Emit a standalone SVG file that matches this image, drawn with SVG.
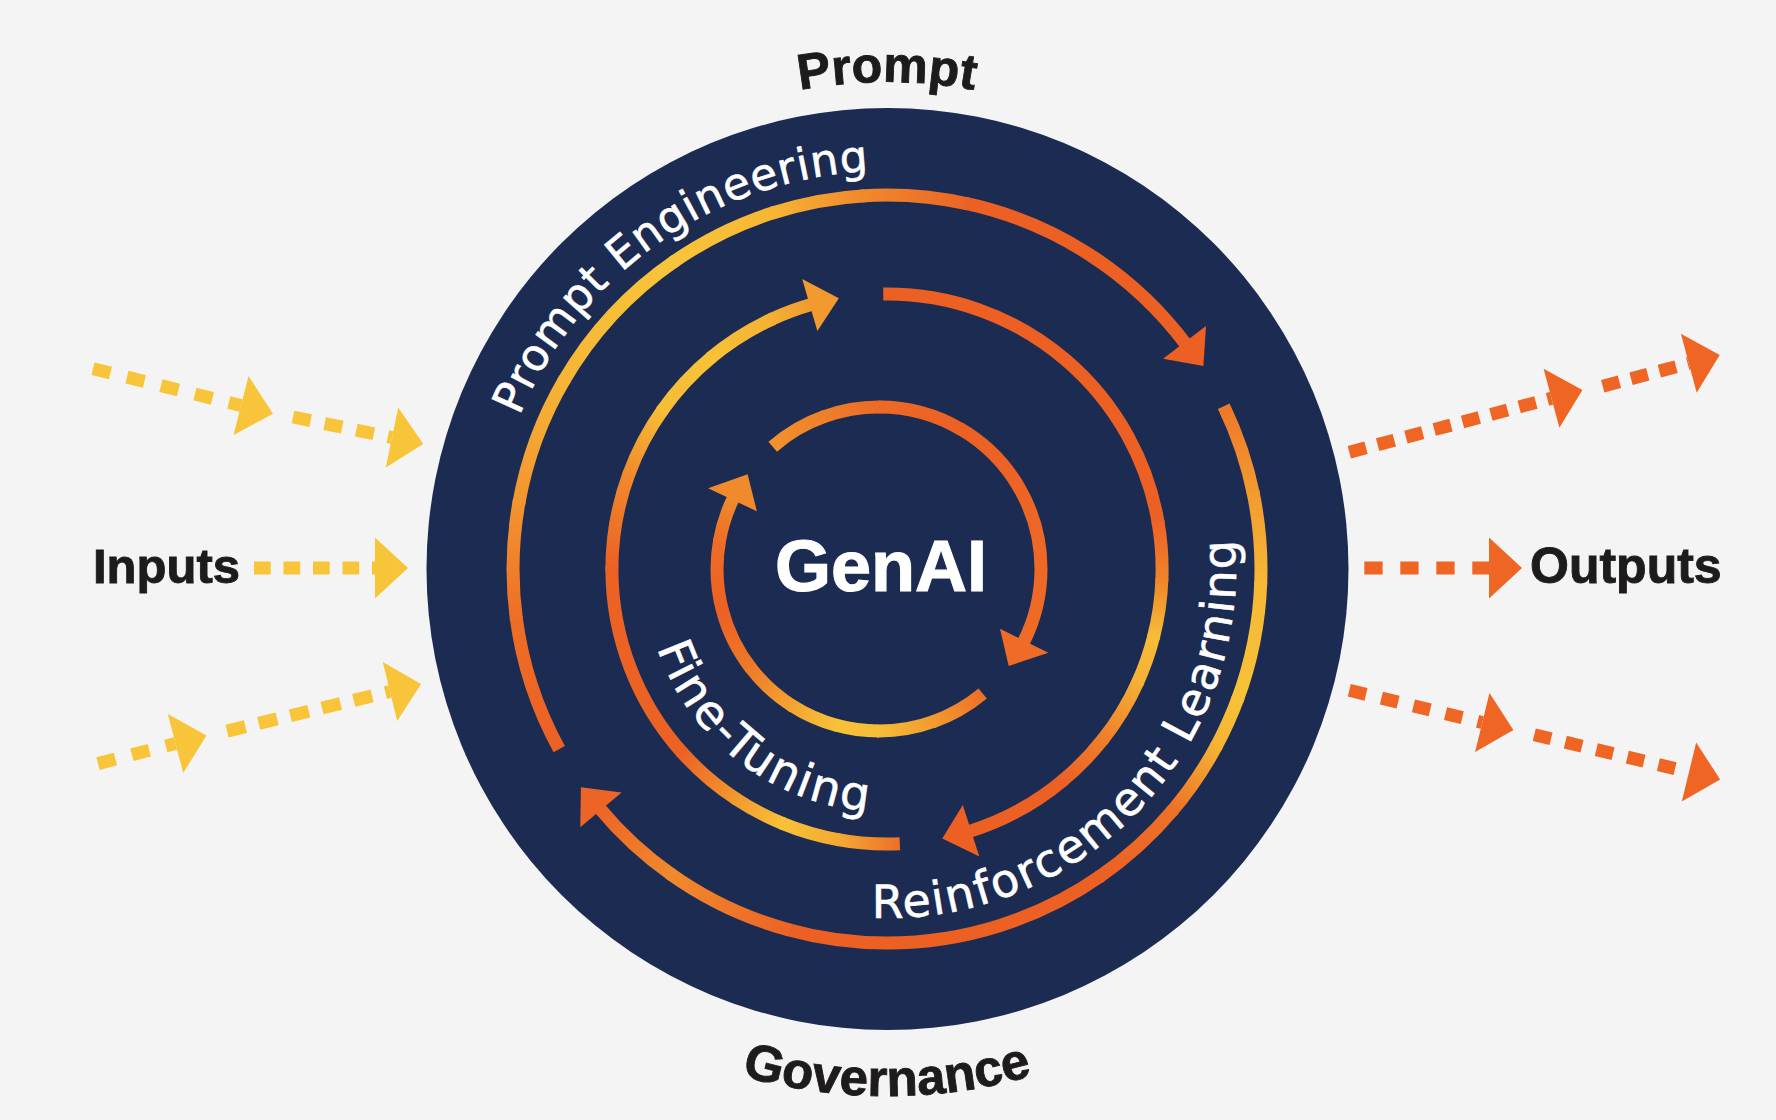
<svg xmlns="http://www.w3.org/2000/svg" width="1776" height="1120" viewBox="0 0 1776 1120">
<style>
.ring{fill:none;stroke-width:13}
.lbl{font-family:"Liberation Sans",Arial,sans-serif;font-weight:bold;fill:#1E1B1C;stroke:#1E1B1C;stroke-width:0.9}
.arct{font-family:"DejaVu Sans","Open Sans",sans-serif;fill:#FFFFFF;stroke:#FFFFFF;stroke-width:0.6}
.dy{fill:none;stroke:#F8C53A;stroke-width:13}
.do{fill:none;stroke:#EF6524;stroke-width:13}
.hy{fill:#F8C53A}
.ho{fill:#EF6524}
</style>
<defs>
<path id="rO" d="M887,195 A374,374 0 1,1 887,943 A374,374 0 1,1 887,195" pathLength="360"/>
<path id="rM" d="M887,294 A275,275 0 1,1 887,844 A275,275 0 1,1 887,294" pathLength="360"/>
<path id="rI" d="M879,407 A162,162 0 1,1 879,731 A162,162 0 1,1 879,407" pathLength="360"/>
<path id="tpPE" d="M519.6,416.0 A398,398 0 0,1 1023.1,195.0"/>
<path id="tpRL" d="M871.8,917.7 A349,349 0 0,0 1111.3,301.7"/>
<path id="tpFT" d="M657.2,648.1 A243,243 0 0,0 1008.5,779.4"/>
<path id="tpP" d="M574,196 A487,487 0 0,1 1200,196"/>
<path id="tpG" d="M455.3,871.3 A527,527 0 0,0 1318.7,871.3"/>
<linearGradient id="o1a" gradientUnits="userSpaceOnUse" x1="559.9" y1="750.3" x2="516.6" y2="621.1"><stop offset="0" stop-color="#EC6024"/><stop offset="1" stop-color="#EE6D26"/></linearGradient>
<linearGradient id="o1b" gradientUnits="userSpaceOnUse" x1="516.6" y1="621.1" x2="518.7" y2="504.1"><stop offset="0" stop-color="#EE6D26"/><stop offset="1" stop-color="#F29430"/></linearGradient>
<linearGradient id="o1c" gradientUnits="userSpaceOnUse" x1="518.7" y1="504.1" x2="563.1" y2="382"><stop offset="0" stop-color="#F29430"/><stop offset="1" stop-color="#F6B535"/></linearGradient>
<linearGradient id="o1d" gradientUnits="userSpaceOnUse" x1="563.1" y1="382" x2="672.5" y2="262.6"><stop offset="0" stop-color="#F6B535"/><stop offset="1" stop-color="#F8C53A"/></linearGradient>
<linearGradient id="o1e" gradientUnits="userSpaceOnUse" x1="672.5" y1="262.6" x2="771.4" y2="213.3"><stop offset="0" stop-color="#F8C53A"/><stop offset="1" stop-color="#F6B634"/></linearGradient>
<linearGradient id="o1f" gradientUnits="userSpaceOnUse" x1="771.4" y1="213.3" x2="860.9" y2="195.9"><stop offset="0" stop-color="#F6B634"/><stop offset="1" stop-color="#F08A2C"/></linearGradient>
<linearGradient id="o1g" gradientUnits="userSpaceOnUse" x1="860.9" y1="195.9" x2="964.8" y2="203.2"><stop offset="0" stop-color="#F08A2C"/><stop offset="1" stop-color="#EC6525"/></linearGradient>
<linearGradient id="o2a" gradientUnits="userSpaceOnUse" x1="1223.2" y1="405" x2="1252.8" y2="491.2"><stop offset="0" stop-color="#EF7628"/><stop offset="1" stop-color="#F29A2F"/></linearGradient>
<linearGradient id="o2b" gradientUnits="userSpaceOnUse" x1="1252.8" y1="491.2" x2="1260.8" y2="582.1"><stop offset="0" stop-color="#F29A2F"/><stop offset="1" stop-color="#F6B836"/></linearGradient>
<linearGradient id="o2c" gradientUnits="userSpaceOnUse" x1="1260.8" y1="582.1" x2="1238.4" y2="696.9"><stop offset="0" stop-color="#F6B836"/><stop offset="1" stop-color="#F7C238"/></linearGradient>
<linearGradient id="o2d" gradientUnits="userSpaceOnUse" x1="1238.4" y1="696.9" x2="1217.2" y2="744.6"><stop offset="0" stop-color="#F7C238"/><stop offset="1" stop-color="#F5B434"/></linearGradient>
<linearGradient id="o2e" gradientUnits="userSpaceOnUse" x1="1217.2" y1="744.6" x2="1173.5" y2="809.4"><stop offset="0" stop-color="#F5B434"/><stop offset="1" stop-color="#EE7127"/></linearGradient>
<linearGradient id="o2f" gradientUnits="userSpaceOnUse" x1="1173.5" y1="809.4" x2="1101.5" y2="875.4"><stop offset="0" stop-color="#EE7127"/><stop offset="1" stop-color="#EC6024"/></linearGradient>
<linearGradient id="o2h" gradientUnits="userSpaceOnUse" x1="790.2" y1="930.3" x2="672.5" y2="875.4"><stop offset="0" stop-color="#EC6326"/><stop offset="1" stop-color="#F08A2C"/></linearGradient>
<linearGradient id="o2i" gradientUnits="userSpaceOnUse" x1="672.5" y1="875.4" x2="600.5" y2="809.4"><stop offset="0" stop-color="#F08A2C"/><stop offset="1" stop-color="#EC6526"/></linearGradient>
<linearGradient id="m3a" gradientUnits="userSpaceOnUse" x1="901.4" y1="843.6" x2="839.3" y2="839.8"><stop offset="0" stop-color="#EE6E27"/><stop offset="1" stop-color="#F4A932"/></linearGradient>
<linearGradient id="m3b" gradientUnits="userSpaceOnUse" x1="839.3" y1="839.8" x2="784" y2="824"><stop offset="0" stop-color="#F4A932"/><stop offset="1" stop-color="#F7C238"/></linearGradient>
<linearGradient id="m3c" gradientUnits="userSpaceOnUse" x1="784" y1="824" x2="737.2" y2="799.6"><stop offset="0" stop-color="#F7C238"/><stop offset="1" stop-color="#F39A2F"/></linearGradient>
<linearGradient id="m3d" gradientUnits="userSpaceOnUse" x1="737.2" y1="799.6" x2="682.6" y2="753"><stop offset="0" stop-color="#F39A2F"/><stop offset="1" stop-color="#EC6225"/></linearGradient>
<linearGradient id="m3f" gradientUnits="userSpaceOnUse" x1="612" y1="569" x2="628.6" y2="474.9"><stop offset="0" stop-color="#EC6024"/><stop offset="1" stop-color="#F08A2C"/></linearGradient>
<linearGradient id="m3g" gradientUnits="userSpaceOnUse" x1="628.6" y1="474.9" x2="661.7" y2="411.3"><stop offset="0" stop-color="#F08A2C"/><stop offset="1" stop-color="#F6BC36"/></linearGradient>
<linearGradient id="m3h" gradientUnits="userSpaceOnUse" x1="661.7" y1="411.3" x2="710.2" y2="358.3"><stop offset="0" stop-color="#F6BC36"/><stop offset="1" stop-color="#F7C238"/></linearGradient>
<linearGradient id="m3i" gradientUnits="userSpaceOnUse" x1="710.2" y1="358.3" x2="770.8" y2="319.8"><stop offset="0" stop-color="#F7C238"/><stop offset="1" stop-color="#F5B033"/></linearGradient>
<linearGradient id="m3j" gradientUnits="userSpaceOnUse" x1="770.8" y1="319.8" x2="811.2" y2="304.6"><stop offset="0" stop-color="#F5B033"/><stop offset="1" stop-color="#F29A2F"/></linearGradient>
<linearGradient id="m4b" gradientUnits="userSpaceOnUse" x1="1157.8" y1="521.3" x2="1161.8" y2="578.6"><stop offset="0" stop-color="#EC6225"/><stop offset="1" stop-color="#F0842A"/></linearGradient>
<linearGradient id="m4c" gradientUnits="userSpaceOnUse" x1="1161.8" y1="578.6" x2="1153.8" y2="635.5"><stop offset="0" stop-color="#F0842A"/><stop offset="1" stop-color="#F6BC37"/></linearGradient>
<linearGradient id="m4d" gradientUnits="userSpaceOnUse" x1="1153.8" y1="635.5" x2="1138.2" y2="680.8"><stop offset="0" stop-color="#F6BC37"/><stop offset="1" stop-color="#F5B134"/></linearGradient>
<linearGradient id="m4e" gradientUnits="userSpaceOnUse" x1="1138.2" y1="680.8" x2="1103.7" y2="738.3"><stop offset="0" stop-color="#F5B134"/><stop offset="1" stop-color="#EF7E29"/></linearGradient>
<linearGradient id="m4f" gradientUnits="userSpaceOnUse" x1="1103.7" y1="738.3" x2="1063.8" y2="779.7"><stop offset="0" stop-color="#EF7E29"/><stop offset="1" stop-color="#EC6225"/></linearGradient>
<linearGradient id="i5a" gradientUnits="userSpaceOnUse" x1="772.7" y1="446.7" x2="823.6" y2="416.8"><stop offset="0" stop-color="#F1922E"/><stop offset="1" stop-color="#EF7F29"/></linearGradient>
<linearGradient id="i5b" gradientUnits="userSpaceOnUse" x1="823.6" y1="416.8" x2="879" y2="407"><stop offset="0" stop-color="#EF7F29"/><stop offset="1" stop-color="#EC6A26"/></linearGradient>
<linearGradient id="i5c" gradientUnits="userSpaceOnUse" x1="879" y1="407" x2="960" y2="428.7"><stop offset="0" stop-color="#EC6A26"/><stop offset="1" stop-color="#EC6024"/></linearGradient>
<linearGradient id="i5d" gradientUnits="userSpaceOnUse" x1="960" y1="428.7" x2="1024.6" y2="640"><stop offset="0" stop-color="#EC6024"/><stop offset="1" stop-color="#EE6C26"/></linearGradient>
<linearGradient id="i6a" gradientUnits="userSpaceOnUse" x1="983.1" y1="693.1" x2="934.4" y2="721.2"><stop offset="0" stop-color="#EE6E27"/><stop offset="1" stop-color="#F29A2F"/></linearGradient>
<linearGradient id="i6b" gradientUnits="userSpaceOnUse" x1="934.4" y1="721.2" x2="879" y2="731"><stop offset="0" stop-color="#F29A2F"/><stop offset="1" stop-color="#F6BC37"/></linearGradient>
<linearGradient id="i6c" gradientUnits="userSpaceOnUse" x1="879" y1="731" x2="837.1" y2="725.5"><stop offset="0" stop-color="#F6BC37"/><stop offset="1" stop-color="#F7C238"/></linearGradient>
<linearGradient id="i6d" gradientUnits="userSpaceOnUse" x1="837.1" y1="725.5" x2="793.2" y2="706.4"><stop offset="0" stop-color="#F7C238"/><stop offset="1" stop-color="#F4A532"/></linearGradient>
<linearGradient id="i6e" gradientUnits="userSpaceOnUse" x1="793.2" y1="706.4" x2="751.3" y2="668.7"><stop offset="0" stop-color="#F4A532"/><stop offset="1" stop-color="#EF7A28"/></linearGradient>
<linearGradient id="i6f" gradientUnits="userSpaceOnUse" x1="751.3" y1="668.7" x2="722.5" y2="610.9"><stop offset="0" stop-color="#EF7A28"/><stop offset="1" stop-color="#EC6024"/></linearGradient>
<linearGradient id="i6g" gradientUnits="userSpaceOnUse" x1="722.5" y1="610.9" x2="719.5" y2="540.9"><stop offset="0" stop-color="#EC6024"/><stop offset="1" stop-color="#EE6D26"/></linearGradient>
<linearGradient id="i6h" gradientUnits="userSpaceOnUse" x1="719.5" y1="540.9" x2="732.2" y2="500.5"><stop offset="0" stop-color="#EE6D26"/><stop offset="1" stop-color="#F08A2C"/></linearGradient>
</defs>

<rect x="0" y="0" width="1776" height="1120" fill="#F4F4F4"/>

<g id="genai-disc">
<circle cx="887.5" cy="569" r="461" fill="#1C2B52"/>
</g>

<g id="connectors">
<g id="outer-loop-prompt-engineering">
<use href="#rO" class="ring" stroke="url(#o1a)" stroke-dasharray="21.4 338.6" stroke-dashoffset="-241.2"/>
<use href="#rO" class="ring" stroke="url(#o1b)" stroke-dasharray="18.6 341.4" stroke-dashoffset="-262"/>
<use href="#rO" class="ring" stroke="url(#o1c)" stroke-dasharray="20.6 339.4" stroke-dashoffset="-280"/>
<use href="#rO" class="ring" stroke="url(#o1d)" stroke-dasharray="25.6 334.4" stroke-dashoffset="-300"/>
<use href="#rO" class="ring" stroke="url(#o1e)" stroke-dasharray="17.6 342.4" stroke-dashoffset="-325"/>
<use href="#rO" class="ring" stroke="url(#o1f)" stroke-dasharray="14.6 345.4" stroke-dashoffset="-342"/>
<use href="#rO" class="ring" stroke="url(#o1g)" stroke-dasharray="16.6 343.4" stroke-dashoffset="-356"/>
<use href="#rO" class="ring" stroke="#EC6024" stroke-dasharray="41.2 318.8" stroke-dashoffset="-12"/>
<polygon points="1163.0,358.7 1206.0,326.0 1203.4,365.9" fill="#EC6024"/>
</g>
<g id="outer-loop-reinforcement">
<use href="#rO" class="ring" stroke="url(#o2a)" stroke-dasharray="14.4 345.6" stroke-dashoffset="-64.2"/>
<use href="#rO" class="ring" stroke="url(#o2b)" stroke-dasharray="14.6 345.4" stroke-dashoffset="-78"/>
<use href="#rO" class="ring" stroke="url(#o2c)" stroke-dasharray="18.6 341.4" stroke-dashoffset="-92"/>
<use href="#rO" class="ring" stroke="url(#o2d)" stroke-dasharray="8.6 351.4" stroke-dashoffset="-110"/>
<use href="#rO" class="ring" stroke="url(#o2e)" stroke-dasharray="12.6 347.4" stroke-dashoffset="-118"/>
<use href="#rO" class="ring" stroke="url(#o2f)" stroke-dasharray="15.6 344.4" stroke-dashoffset="-130"/>
<use href="#rO" class="ring" stroke="#EC6024" stroke-dasharray="50.6 309.4" stroke-dashoffset="-145"/>
<use href="#rO" class="ring" stroke="url(#o2h)" stroke-dasharray="20.6 339.4" stroke-dashoffset="-195"/>
<use href="#rO" class="ring" stroke="url(#o2i)" stroke-dasharray="15.4 344.6" stroke-dashoffset="-215"/>
<polygon points="621.6,792.5 580.3,827.3 580.9,787.3" fill="#EC6526"/>
</g>
<g id="middle-loop-fine-tuning">
<use href="#rM" class="ring" stroke="url(#m3a)" stroke-dasharray="13.3 346.7" stroke-dashoffset="-177.3"/>
<use href="#rM" class="ring" stroke="url(#m3b)" stroke-dasharray="12.6 347.4" stroke-dashoffset="-190"/>
<use href="#rM" class="ring" stroke="url(#m3c)" stroke-dasharray="11.6 348.4" stroke-dashoffset="-202"/>
<use href="#rM" class="ring" stroke="url(#m3d)" stroke-dasharray="15.6 344.4" stroke-dashoffset="-213"/>
<use href="#rM" class="ring" stroke="#EC6225" stroke-dasharray="42.6 317.4" stroke-dashoffset="-228"/>
<use href="#rM" class="ring" stroke="url(#m3f)" stroke-dasharray="20.6 339.4" stroke-dashoffset="-270"/>
<use href="#rM" class="ring" stroke="url(#m3g)" stroke-dasharray="15.6 344.4" stroke-dashoffset="-290"/>
<use href="#rM" class="ring" stroke="url(#m3h)" stroke-dasharray="15.6 344.4" stroke-dashoffset="-305"/>
<use href="#rM" class="ring" stroke="url(#m3i)" stroke-dasharray="15.6 344.4" stroke-dashoffset="-320"/>
<use href="#rM" class="ring" stroke="url(#m3j)" stroke-dasharray="9.2 350.8" stroke-dashoffset="-335"/>
<polygon points="817.4,331.0 802.2,279.1 838.8,298.3" fill="#F29A2F"/>
</g>
<g id="middle-loop-return">
<use href="#rM" class="ring" stroke="#EC6024" stroke-dasharray="81.4 278.6" stroke-dashoffset="-359.2"/>
<use href="#rM" class="ring" stroke="url(#m4b)" stroke-dasharray="12.6 347.4" stroke-dashoffset="-80"/>
<use href="#rM" class="ring" stroke="url(#m4c)" stroke-dasharray="12.6 347.4" stroke-dashoffset="-92"/>
<use href="#rM" class="ring" stroke="url(#m4d)" stroke-dasharray="10.6 349.4" stroke-dashoffset="-104"/>
<use href="#rM" class="ring" stroke="url(#m4e)" stroke-dasharray="14.6 345.4" stroke-dashoffset="-114"/>
<use href="#rM" class="ring" stroke="url(#m4f)" stroke-dasharray="12.6 347.4" stroke-dashoffset="-128"/>
<use href="#rM" class="ring" stroke="#EC6024" stroke-dasharray="22.7 337.3" stroke-dashoffset="-140"/>
<polygon points="962.8,805.1 979.3,856.5 942.3,838.4" fill="#EC6024"/>
</g>
<g id="inner-loop-a">
<use href="#rI" class="ring" stroke="url(#i5a)" stroke-dasharray="21.6 338.4" stroke-dashoffset="-319"/>
<use href="#rI" class="ring" stroke="url(#i5b)" stroke-dasharray="20.6 339.4" stroke-dashoffset="-340"/>
<use href="#rI" class="ring" stroke="url(#i5c)" stroke-dasharray="30.6 329.4" stroke-dashoffset="0"/>
<use href="#rI" class="ring" stroke="url(#i5d)" stroke-dasharray="86.8 273.2" stroke-dashoffset="-30"/>
<polygon points="1000.0,628.8 1048.4,652.7 1008.7,666.0" fill="#EE6C26"/>
</g>
<g id="inner-loop-b">
<use href="#rI" class="ring" stroke="url(#i6a)" stroke-dasharray="20.4 339.6" stroke-dashoffset="-140.2"/>
<use href="#rI" class="ring" stroke="url(#i6b)" stroke-dasharray="20.6 339.4" stroke-dashoffset="-160"/>
<use href="#rI" class="ring" stroke="url(#i6c)" stroke-dasharray="15.6 344.4" stroke-dashoffset="-180"/>
<use href="#rI" class="ring" stroke="url(#i6d)" stroke-dasharray="17.6 342.4" stroke-dashoffset="-195"/>
<use href="#rI" class="ring" stroke="url(#i6e)" stroke-dasharray="20.6 339.4" stroke-dashoffset="-212"/>
<use href="#rI" class="ring" stroke="url(#i6f)" stroke-dasharray="23.6 336.4" stroke-dashoffset="-232"/>
<use href="#rI" class="ring" stroke="url(#i6g)" stroke-dasharray="25.6 334.4" stroke-dashoffset="-255"/>
<use href="#rI" class="ring" stroke="url(#i6h)" stroke-dasharray="15.8 344.2" stroke-dashoffset="-280"/>
<polygon points="756.9,511.3 708.1,488.2 747.6,474.2" fill="#F08A2C"/>
</g>

<g id="input-arrows">
<line class="dy" x1="93" y1="368.7" x2="241" y2="405.5" stroke-dasharray="18 17"/>
<polygon class="hy" points="248.5,375.9 273,413.7 233.5,435.1"/>
<line class="dy" x1="293" y1="417" x2="392" y2="437.5" stroke-dasharray="18 14.3"/>
<polygon class="hy" points="398.2,407.6 423.3,444 385.8,467.4"/>
<line class="dy" x1="254" y1="568" x2="376" y2="568" stroke-dasharray="16.7 12.8"/>
<polygon class="hy" points="375,537.5 408,568 375,598.5"/>
<line class="dy" x1="98" y1="763.6" x2="175.5" y2="743.5" stroke-dasharray="18 17"/>
<polygon class="hy" points="167.8,714 206.5,735.5 183.2,773"/>
<line class="dy" x1="227" y1="731.1" x2="390" y2="691.5" stroke-dasharray="19 13.6"/>
<polygon class="hy" points="382.8,661.9 421.1,684 397.2,721.1"/>
</g>
<g id="output-arrows">
<line class="do" x1="1349.3" y1="452.2" x2="1551.5" y2="398.3" stroke-dasharray="17.3 12"/>
<polygon class="ho" points="1543.6,368.8 1582.4,390 1559.4,427.8"/>
<line class="do" x1="1602.7" y1="386.2" x2="1688.8" y2="363.3" stroke-dasharray="17.3 12"/>
<polygon class="ho" points="1680.9,333.8 1719.7,355 1696.7,392.8"/>
<line class="do" x1="1364.3" y1="568" x2="1492" y2="568" stroke-dasharray="18.3 17.7"/>
<polygon class="ho" points="1489,537.5 1522,568 1489,598.5"/>
<line class="do" x1="1349.3" y1="690.3" x2="1482.3" y2="722.5" stroke-dasharray="17.2 15.8"/>
<polygon class="ho" points="1489.5,692.9 1513.4,730 1475.1,752.1"/>
<line class="do" x1="1534.3" y1="734.7" x2="1689" y2="772" stroke-dasharray="17.2 14.7"/>
<polygon class="ho" points="1696.2,742.4 1720.1,779.5 1681.8,801.6"/>
</g>
</g>

<g id="label-prompt-engineering">
<text class="arct" font-size="44" letter-spacing="0.8"><textPath href="#tpPE">Prompt Engineering</textPath></text>
</g>
<g id="label-reinforcement-learning">
<text class="arct" font-size="46" letter-spacing="2"><textPath href="#tpRL">Reinforcement Learning</textPath></text>
</g>
<g id="label-fine-tuning">
<text class="arct" font-size="47" letter-spacing="2"><textPath href="#tpFT">Fine-Tuning</textPath></text>
</g>
<g id="node-genai">
<text x="881" y="591" font-family="Liberation Sans, Arial, sans-serif" font-weight="bold" font-size="72" fill="#FFFFFF" stroke="#FFFFFF" stroke-width="1.2" text-anchor="middle">GenAI</text>
</g>
<g id="node-prompt">
<text class="lbl" font-size="50" text-anchor="middle"><textPath href="#tpP" startOffset="50%">Prompt</textPath></text>
</g>
<g id="node-governance">
<text class="lbl" font-size="51" text-anchor="middle"><textPath href="#tpG" startOffset="50%">Governance</textPath></text>
</g>
<g id="node-inputs">
<text class="lbl" x="93" y="583" font-size="49">Inputs</text>
</g>
<g id="node-outputs">
<text class="lbl" x="1530" y="583" font-size="50">Outputs</text>
</g>
</svg>
